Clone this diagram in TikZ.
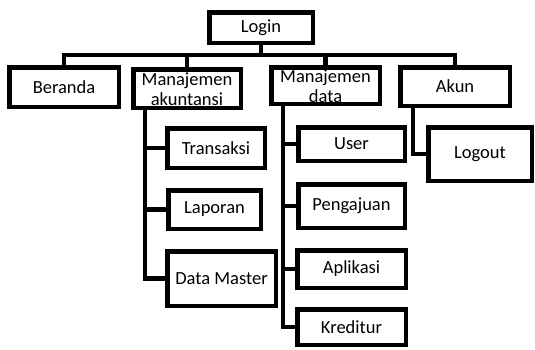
\documentclass[tikz,border=0pt]{standalone}
\usepackage{fontspec}
\setmainfont{Carlito}
\begin{document}
\begin{tikzpicture}[x=1pt,y=-1pt,
  box/.style={draw=black,line width=4.5pt,rectangle,inner sep=0pt,fill=white,
    font=\fontsize{18.5}{20}\selectfont,align=center},
  txt/.style={inner sep=0pt,font=\fontsize{18.5}{20}\selectfont,align=center},
  conn/.style={draw=black,line width=4.5pt,line join=miter,line cap=rect}]
\useasboundingbox (0,0) rectangle (535,349);
\coordinate (bus) at (0,55);
\coordinate (maL) at (145,0);
\coordinate (mdL) at (283,0);
\coordinate (akL) at (413,0);
\node[box,minimum width=103.5pt,minimum height=30.5pt] (login) at (261,27.5) {Login};
\node[box,minimum width=109.5pt,minimum height=39.5pt] (ber) at (64,87) {Beranda};
\node[box,minimum width=107.5pt,minimum height=38.5pt] (ma) at (187,88.5) {};
\node[txt] (mat) at (187,89) {Manajemen\\akuntansi};
\node[box,minimum width=108.5pt,minimum height=36.5pt] (md) at (325.5,85.5) {};
\node[txt] (mdt) at (325.5,86) {Manajemen\\data};
\node[box,minimum width=109.5pt,minimum height=38.5pt] (ak) at (455,86.5) {Akun};
\node[box,minimum width=103.5pt,minimum height=53.5pt] (lo) at (480,154) {Logout};
\node[box,minimum width=97.5pt,minimum height=39.5pt] (tr) at (216,148) {Transaksi};
\node[box,minimum width=92.5pt,minimum height=38.5pt] (lap) at (214.5,209.5) {Laporan};
\node[box,minimum width=108.5pt,minimum height=54.5pt] (dm) at (221.5,278.5) {Data Master};
\node[box,minimum width=106.5pt,minimum height=33.5pt] (us) at (351.5,144) {User};
\node[box,minimum width=106.5pt,minimum height=43.5pt] (pe) at (351.5,206) {Pengajuan};
\node[box,minimum width=108.5pt,minimum height=37.5pt] (ap) at (351.5,269) {Aplikasi};
\node[box,minimum width=108.5pt,minimum height=35.5pt] (kr) at (351.5,327) {Kreditur};
% connectors
\draw[conn] (login.south) -- (login.south |- bus);
\draw[conn] (ber.north) -- (ber.north |- bus) -- (ak.north |- bus) -- (ak.north);
\draw[conn] (ma.north) -- (ma.north |- bus);
\draw[conn] (md.north) -- (md.north |- bus);
\draw[conn] (maL |- ma.south) |- (dm.west);
\draw[conn] (maL |- tr.west) -- (tr.west);
\draw[conn] (maL |- lap.west) -- (lap.west);
\draw[conn] (mdL |- md.south) |- (kr.west);
\draw[conn] (mdL |- us.west) -- (us.west);
\draw[conn] (mdL |- pe.west) -- (pe.west);
\draw[conn] (mdL |- ap.west) -- (ap.west);
\draw[conn] (akL |- ak.south) |- (lo.west);
\end{tikzpicture}
\end{document}
